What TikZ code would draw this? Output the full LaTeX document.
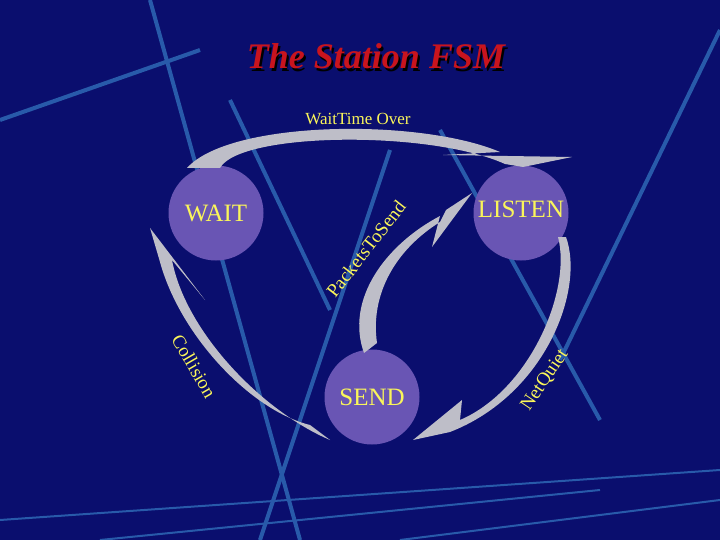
\documentclass[tikz,border=0pt]{standalone}
\usepackage{fontspec}
\setmainfont{Liberation Serif}
\begin{document}
\begin{tikzpicture}[x=1pt,y=-1pt,
  state/.style={circle,fill=stateviolet,minimum size=95pt,inner sep=0pt,text=txtyellow,font=\fontsize{25}{27}\selectfont},
  lbl/.style={text=txtyellow,font=\fontsize{19}{21}\selectfont},
  streak/.style={draw=streakblue,line width=4pt},
  arr/.style={fill=arrgray,draw=none}]
\definecolor{bgblue}{RGB}{10,14,110}
\definecolor{streakblue}{RGB}{40,90,170}
\definecolor{stateviolet}{RGB}{105,85,180}
\definecolor{txtyellow}{RGB}{250,245,90}
\definecolor{arrgray}{RGB}{190,190,200}
\definecolor{titlered}{RGB}{200,20,30}
\fill[bgblue] (0,0) rectangle (720,540);
\useasboundingbox (0,0) rectangle (720,540);
% streaks
\draw[streak] (230,100) -- (330,310);
\draw[streak] (150,0) -- (300,540);
\draw[streak] (440,130) -- (600,420);
\draw[streak] (390,150) -- (260,540);
\draw[streak] (720,30) -- (560,360);
\draw[streak] (0,120) -- (200,50);
\draw[streak,line width=2pt] (0,520) -- (720,470);
\draw[streak,line width=2pt] (100,540) -- (600,490);
\draw[streak,line width=2pt] (400,540) -- (720,500);
% title
\node[text=black,font=\fontsize{36}{38}\selectfont\bfseries\itshape] at (378,59) {The Station FSM};
\node (title) [text=titlered,font=\fontsize{36}{38}\selectfont\bfseries\itshape] at (376,56) {The Station FSM};
% states
\node[state] (wait) at (216,213) {WAIT};
\node[state] (listen) at (521,213) {\raisebox{8pt}{LISTEN}};
\node[state] (send) at (372,397) {SEND};
% WaitTime Over arrow
\path[arr] (187,168) .. controls (230,120) and (420,118) .. (500,152)
  -- (443,155) -- (572,157) -- (523,167) -- (505,164)
  .. controls (430,130) and (240,132) .. (220,168) -- cycle;
% PacketsToSend arrow
\path[arr] (364,353) .. controls (345,300) and (385,245) .. (440,216)
  -- (432,247) -- (472,193) -- (446,210) -- (440,222)
  .. controls (395,250) and (370,295) .. (377,343) -- cycle;
% NetQuiet arrow
\path[arr] (558,237) .. controls (572,290) and (530,390) .. (460,420)
  -- (462,400) -- (413,440) -- (450,432)
  .. controls (545,395) and (585,290) .. (566,237) -- cycle;
% Collision arrow
\path[arr] (330,440) .. controls (260,410) and (185,330) .. (172,260)
  -- (205,300) -- (150,228) -- (160,262)
  .. controls (180,335) and (250,410) .. (310,425) -- cycle;
% labels
\node[lbl,font=\fontsize{17}{19}\selectfont] (l1) at (358,119) {WaitTime Over};
\node[lbl,rotate=52] (l2) at (366,249) {PacketsToSend};
\node[lbl,rotate=56] (l3) at (545,380) {NetQuiet};
\node[lbl,rotate=-60] (l4) at (194,366) {Collision};
\end{tikzpicture}
\end{document}
